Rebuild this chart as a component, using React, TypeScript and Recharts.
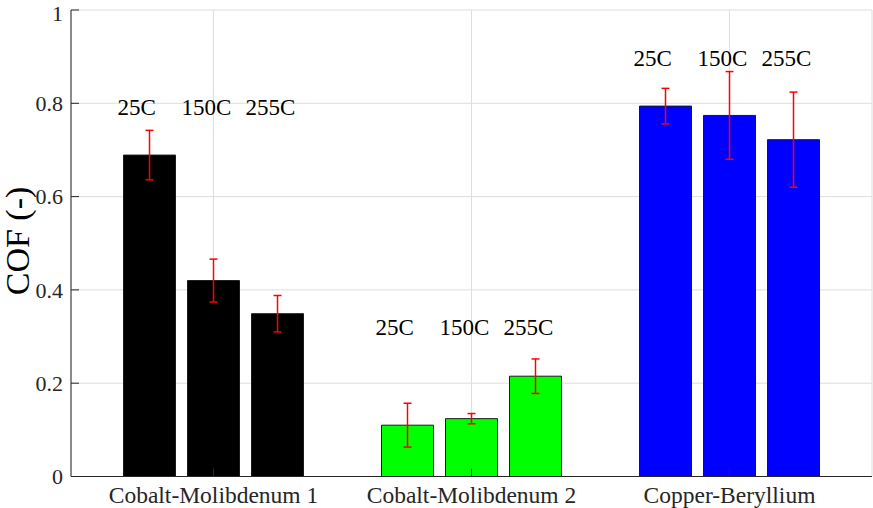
import { BarChart, Bar, XAxis, YAxis, CartesianGrid, ErrorBar, Cell } from 'recharts';

// materials on the x axis
const categories = ['Cobalt-Molibdenum 1', 'Cobalt-Molibdenum 2', 'Copper-Beryllium'];
const groupColors = ['#000000', '#00ff00', '#0000ff'];

// mean COF per temperature
const cof25 = [0.689, 0.110, 0.794];
const cof150 = [0.420, 0.124, 0.774];
const cof255 = [0.349, 0.215, 0.722];

// error (half range)
const err25 = [0.053, 0.047, 0.038];
const err150 = [0.046, 0.011, 0.094];
const err255 = [0.039, 0.037, 0.102];

const tempLabels = ['25C', '150C', '255C'];
// baseline of the temperature text, in COF units, one per material
const labelY = [0.775, 0.303, 0.88];

const yTicks = [0, 0.2, 0.4, 0.6, 0.8, 1];

const data = categories.map((name, i) => ({
    name,
    t25: cof25[i],
    t150: cof150[i],
    t255: cof255[i],
    e25: err25[i],
    e150: err150[i],
    e255: err255[i],
}));

const FONT = '"Liberation Serif", "Times New Roman", serif';
const AXIS = '#262626';

const fmt = (v: number) => (v === 0 || v === 1 ? `${v}` : v.toFixed(1));

function makeLabel(text: string) {
    return (props: any) => {
        const { x, y, width, height, value, index } = props;
        if (!value) return null;
        const zero = Number(y) + Number(height);
        const perUnit = Number(height) / Number(value);
        const py = zero - labelY[index] * perUnit;
        return (
            <text x={Number(x) - 6} y={py} fontFamily={FONT} fontSize={23} fill="#000" textAnchor="start" key={`${text}-${index}-${width}`}>
                {text}
            </text>
        );
    };
}

const series = [
    { key: 't25', err: 'e25', label: tempLabels[0] },
    { key: 't150', err: 'e150', label: tempLabels[1] },
    { key: 't255', err: 'e255', label: tempLabels[2] },
];

export default function App() {
    return (
        <div style={{ position: 'absolute', left: 0, top: 0, width: 873, height: 508, background: '#fff' }}>
            <BarChart
                width={873}
                height={508}
                data={data}
                margin={{ top: 10, right: 1, bottom: 0, left: 0 }}
                barSize={52}
                barGap={12}
            >
                <CartesianGrid stroke="#dedede" strokeWidth={1} />
                <XAxis
                    dataKey="name"
                    height={31.5}
                    padding={{ left: 13.5, right: 13.5 }}
                    stroke={AXIS}
                    tickSize={-8}
                    tickMargin={18}
                    tick={{ fontFamily: FONT, fontSize: 23.5, fill: AXIS }}
                    interval={0}
                />
                <XAxis
                    xAxisId="top"
                    dataKey="name"
                    orientation="top"
                    height={0}
                    padding={{ left: 13.5, right: 13.5 }}
                    stroke={AXIS}
                    tickSize={-8}
                    tick={false}
                />
                <YAxis
                    domain={[0, 1]}
                    ticks={yTicks}
                    width={71}
                    stroke={AXIS}
                    tickSize={-8}
                    tickMargin={16}
                    tickFormatter={fmt}
                    allowDataOverflow
                    tick={{ fontFamily: FONT, fontSize: 22, fill: AXIS }}
                    label={{
                        content: () => (
                            <text
                                transform="translate(17,241) rotate(-90)"
                                textAnchor="middle"
                                dominantBaseline="central"
                                fontFamily={FONT}
                                fontSize={34}
                                fill="#000"
                            >
                                COF (-)
                            </text>
                        ),
                    }}
                />
                <YAxis
                    yAxisId="right"
                    orientation="right"
                    domain={[0, 1]}
                    ticks={yTicks}
                    width={0}
                    stroke={AXIS}
                    tickSize={-8}
                    tick={false}
                />
                {series.map((s) => (
                    <Bar
                        key={s.key}
                        dataKey={s.key}
                        stroke="#1a1a1a"
                        strokeWidth={1}
                        isAnimationActive={false}
                        label={makeLabel(s.label)}
                    >
                        {data.map((_, i) => (
                            <Cell key={i} fill={groupColors[i]} />
                        ))}
                        <ErrorBar dataKey={s.err} stroke="#ff0000" strokeWidth={1.5} width={4} direction="y" />
                    </Bar>
                ))}
            </BarChart>
        </div>
    );
}
